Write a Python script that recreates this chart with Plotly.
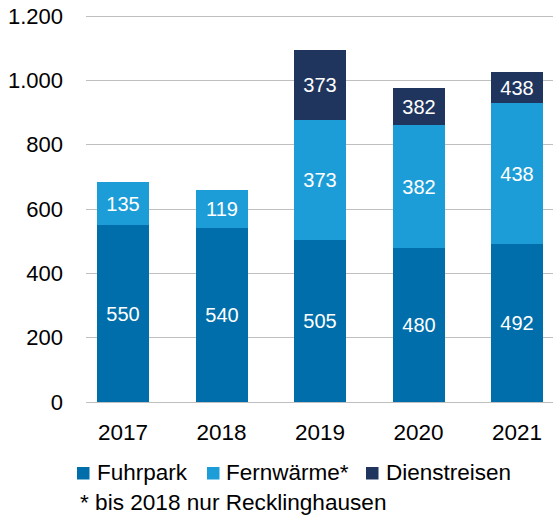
import plotly.graph_objects as go

years = ["2017", "2018", "2019", "2020", "2021"]
fuhrpark = [550, 540, 505, 480, 492]
fernwaerme = [135, 119, 373, 382, 438]
dienstreisen = [0, 0, 215, 113, 97]
dienstreisen_labels = ["", "", "373", "382", "438"]
y_ticks = [0, 200, 400, 600, 800, 1000, 1200]
y_tick_labels = ["0", "200", "400", "600", "800", "1.000", "1.200"]

series_names = ["Fuhrpark", "Fernwärme*", "Dienstreisen"]
colors = ["#006EAA", "#1D9DD8", "#1F355E"]
footnote = "* bis 2018 nur Recklinghausen"

FONT = "Liberation Sans, Arial, sans-serif"
BAR_W = 0.528

fig = go.Figure()
fig.add_trace(go.Bar(
    x=years, y=fuhrpark, name=series_names[0], marker_color=colors[0],
    text=[str(v) for v in fuhrpark], width=BAR_W,
))
fig.add_trace(go.Bar(
    x=years, y=fernwaerme, name=series_names[1], marker_color=colors[1],
    text=[str(v) for v in fernwaerme], width=BAR_W,
))
fig.add_trace(go.Bar(
    x=years, y=dienstreisen, name=series_names[2], marker_color=colors[2],
    text=dienstreisen_labels, width=BAR_W,
))
fig.update_traces(
    textposition="inside", insidetextanchor="middle", textangle=0,
    textfont=dict(family=FONT, size=20, color="white"),
    marker_line_width=0, showlegend=False, hoverinfo="skip",
)

W, H = 553, 516
L, R, T, B = 86, 0, 11, 114
pw, ph = W - L - R, H - T - B
y_top = ph / (386.0 / 1200.0)

def px(x):
    return (x - L) / pw

def py(y):
    return (H - B - y) / ph

shapes = []
annotations = []
legend_sq_x = [77, 207, 366]
legend_tx_x = [95, 224, 384]
for i, name in enumerate(series_names):
    shapes.append(dict(type="rect", xref="paper", yref="paper",
                       x0=px(legend_sq_x[i]), x1=px(legend_sq_x[i] + 12.5),
                       y0=py(479.5), y1=py(467), fillcolor=colors[i],
                       line_width=0))
    annotations.append(dict(xref="paper", yref="paper", x=px(legend_tx_x[i]),
                            y=py(472), xanchor="left", yanchor="middle",
                            text=name, showarrow=False,
                            font=dict(family=FONT, size=22.5, color="#000000")))
annotations.append(dict(xref="paper", yref="paper", x=px(79), y=py(502),
                        xanchor="left", yanchor="middle", text=footnote,
                        showarrow=False, borderpad=0,
                        font=dict(family=FONT, size=22.6, color="#000000")))

fig.update_layout(
    width=W, height=H, barmode="stack", bargap=0,
    margin=dict(l=L, r=R, t=T, b=B, pad=0),
    plot_bgcolor="white", paper_bgcolor="white",
    font=dict(family=FONT, size=22, color="#000000"),
    separators=",.",
    shapes=shapes, annotations=annotations,
    xaxis=dict(range=[-0.376, 4.365], showgrid=False, showline=True,
               linecolor="#BFBFBF", linewidth=1.3, ticks="",
               tickfont=dict(family=FONT, size=22.5, color="#000000"),
               ticklabelstandoff=10),
    yaxis=dict(range=[0, y_top], tickvals=y_ticks, ticktext=y_tick_labels,
               showgrid=True, gridcolor="#BFBFBF", gridwidth=1.3,
               zeroline=False, showline=False, ticks="",
               tickfont=dict(family=FONT, size=22, color="#000000"),
               ticklabelstandoff=22),
)

fig.write_html("out.html", config={"displayModeBar": False},
               post_script="document.body.style.margin='0';document.body.style.overflow='hidden';")
